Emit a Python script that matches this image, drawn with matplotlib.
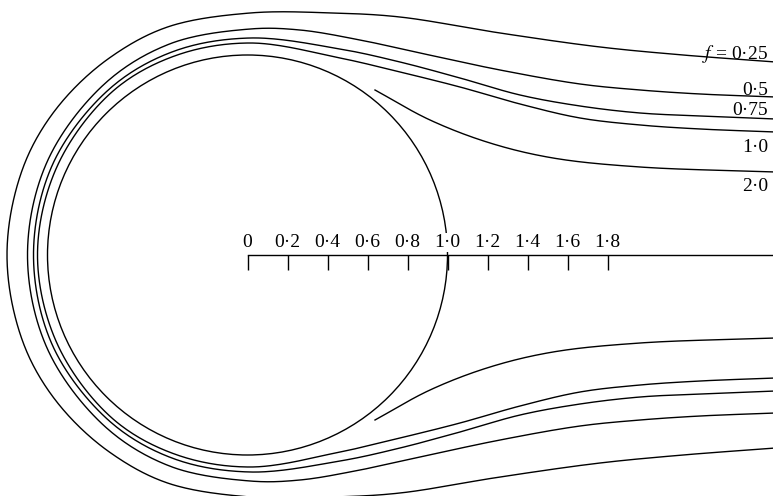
import numpy as np
import matplotlib
matplotlib.use("Agg")
import matplotlib.pyplot as plt
from matplotlib.patches import Circle

plt.rcParams['font.family'] = ['Liberation Serif', 'DejaVu Serif']
plt.rcParams['mathtext.fontset'] = 'stix'

# upper halves of the f-curves (body radius = 1), the lower half is the mirror image
x_025 = [-1.2025, -1.17, -1.08, -0.9216, -0.69, -0.40, 0.0125, 0.4275, 0.7625, 1.2625, 1.7625, 2.1775, 2.64]
y_025 = [0.0, 0.275, 0.535, 0.7733, 0.9855, 1.14, 1.21, 1.21, 1.19, 1.11, 1.04, 1.0, 0.965]

x_05 = [-1.10, -1.0015, -0.7167, -0.3848, 0.0125, 0.2625, 0.5625, 0.8625, 1.2625, 1.6625, 1.9625, 2.2625, 2.64]
y_05 = [0.0, 0.467, 0.854, 1.057, 1.13, 1.125, 1.075, 1.01, 0.925, 0.855, 0.825, 0.805, 0.79]

x_075 = [-1.07, -0.974, -0.694, -0.370, 0.0125, 0.4625, 0.7625, 1.0625, 1.3625, 1.6625, 1.9625, 2.2625, 2.64]
y_075 = [0.0, 0.454, 0.827, 1.018, 1.085, 1.03, 0.965, 0.885, 0.80, 0.745, 0.71, 0.695, 0.68]

x_10 = [-1.05, -0.9516, -0.6813, -0.3625, 0.0125, 0.4625, 0.7625, 1.0625, 1.3625, 1.6625, 1.9625, 2.2625, 2.64]
y_10 = [0.0, 0.4437, 0.812, 0.996, 1.06, 0.985, 0.915, 0.84, 0.755, 0.685, 0.65, 0.63, 0.615]

# f = 2 only exists downstream of the body
x_20 = [0.6375, 0.9125, 1.2125, 1.5275, 1.9625, 2.64]
y_20 = [0.825, 0.675, 0.56, 0.485, 0.44, 0.415]

tick_pos = [0.0, 0.2, 0.4, 0.6, 0.8, 1.0, 1.2, 1.4, 1.6, 1.8]
tick_labels = ['0', '0·2', '0·4', '0·6', '0·8', '1·0', '1·2', '1·4', '1·6', '1·8']

curve_labels = ['$f$ = 0·25', '0·5', '0·75', '1·0', '2·0']
label_y = [0.98, 0.80, 0.70, 0.515, 0.32]


def smooth(x, y, n=30, alpha=0.5):
    # centripetal Catmull-Rom through the read points
    p = np.column_stack([x, y]).astype(float)
    p = np.vstack([2 * p[0] - p[1], p, 2 * p[-1] - p[-2]])
    segs = []
    for i in range(len(p) - 3):
        P0, P1, P2, P3 = p[i:i + 4]
        t0 = 0.0
        t1 = t0 + np.linalg.norm(P1 - P0) ** alpha
        t2 = t1 + np.linalg.norm(P2 - P1) ** alpha
        t3 = t2 + np.linalg.norm(P3 - P2) ** alpha
        t = np.linspace(t1, t2, n, endpoint=False)[:, None]
        A1 = (t1 - t) / (t1 - t0) * P0 + (t - t0) / (t1 - t0) * P1
        A2 = (t2 - t) / (t2 - t1) * P1 + (t - t1) / (t2 - t1) * P2
        A3 = (t3 - t) / (t3 - t2) * P2 + (t - t2) / (t3 - t2) * P3
        B1 = (t2 - t) / (t2 - t0) * A1 + (t - t0) / (t2 - t0) * A2
        B2 = (t3 - t) / (t3 - t1) * A2 + (t - t1) / (t3 - t1) * A3
        segs.append((t2 - t) / (t2 - t1) * B1 + (t - t1) / (t2 - t1) * B2)
    segs.append(p[-2][None])
    out = np.vstack(segs)
    return out[:, 0], out[:, 1]


def mirrored(x, y):
    x = np.asarray(x)
    y = np.asarray(y)
    return np.concatenate([x[::-1], x[1:]]), np.concatenate([-y[::-1], y[1:]])


fig = plt.figure(figsize=(7.73, 4.96), dpi=100)
ax = fig.add_axes([0, 0, 1, 1])
ax.set_xlim(-1.2375, 2.6275)
ax.set_ylim(-1.205, 1.275)
ax.set_aspect('equal')
ax.axis('off')

lw = 1.0
for cx, cy in [(x_025, y_025), (x_05, y_05), (x_075, y_075), (x_10, y_10)]:
    sx, sy = smooth(*mirrored(cx, cy))
    ax.plot(sx, sy, color='black', lw=lw)

sx, sy = smooth(x_20, y_20)
ax.plot(sx, sy, color='black', lw=lw)
ax.plot(sx, -sy, color='black', lw=lw)

ax.add_patch(Circle((0, 0), 1.0, fill=False, color='black', lw=lw))

# scale along the axis of symmetry
ax.plot([0, 2.7], [0, 0], color='black', lw=lw)
ax.vlines(tick_pos, -0.075, 0, color='black', lw=lw)
for xp, lab in zip(tick_pos, tick_labels):
    ax.text(xp, 0.04, lab, ha='center', va='baseline', fontsize=14, zorder=5,
            bbox=dict(facecolor='white', edgecolor='none', pad=0.5))

for lab, ly in zip(curve_labels, label_y):
    ax.text(2.6025, ly, lab, ha='right', va='baseline', fontsize=14)

fig.savefig('out.png', dpi=100)
